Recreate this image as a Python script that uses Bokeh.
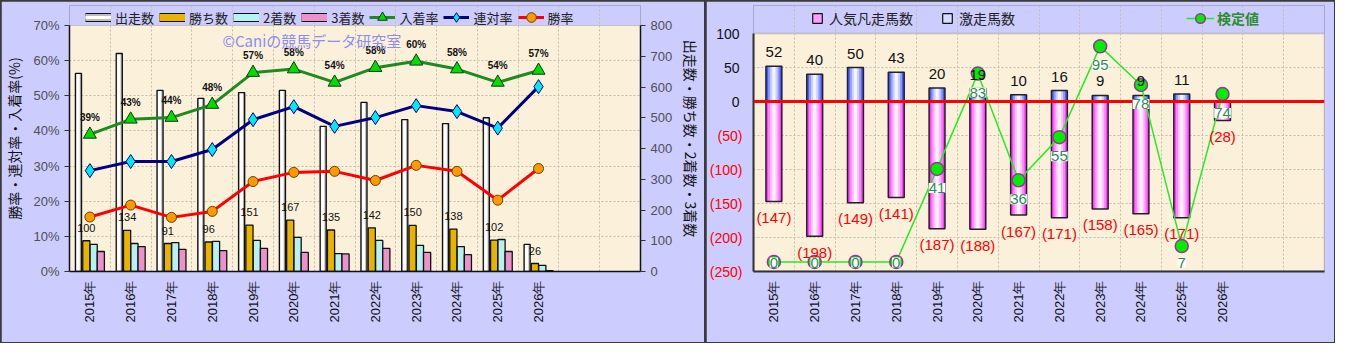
import numpy as np
from bokeh.plotting import figure
from bokeh.models import (ColumnDataSource, Range1d, LinearAxis, FixedTicker, Legend, LegendItem,
                          Label, LabelSet, Span, BoxAnnotation, CustomJSTickFormatter,
                          PrintfTickFormatter)
from bokeh.layouts import row
from bokeh.transform import dodge
from bokeh.core.properties import value
from bokeh.embed import file_html
from bokeh.resources import INLINE

# ---------------- data ----------------
years = ["2015年", "2016年", "2017年", "2018年", "2019年", "2020年",
         "2021年", "2022年", "2023年", "2024年", "2025年", "2026年"]
n_slots = 14  # two empty category slots on the right

runs = [644, 709, 589, 563, 582, 589, 472, 550, 494, 481, 500, 88]          # 出走数
wins = [100, 134, 91, 96, 151, 167, 135, 142, 150, 138, 102, 26]             # 勝ち数
seconds = [88, 91, 94, 98, 101, 111, 58, 101, 85, 81, 104, 20]                # 2着数
thirds = [65, 81, 72, 68, 75, 62, 57, 75, 62, 55, 65, 3]                      # 3着数
win_rate = [15.5, 18.9, 15.4, 17.1, 25.6, 28.2, 28.5, 25.9, 30.2, 28.5, 20.3, 29.3]      # 勝率
rentai_rate = [28.7, 31.3, 31.3, 34.7, 43.2, 46.9, 41.3, 43.8, 47.2, 45.5, 40.8, 52.6]  # 連対率
fukusho_rate = [39.0, 43.3, 43.8, 47.5, 56.6, 57.6, 53.8, 58.0, 59.8, 57.6, 53.8, 57.2]  # 入着率

ninki_bonsou = [147, 198, 149, 141, 187, 188, 167, 171, 158, 165, 171, 28]    # 人気凡走馬数 (shown negative)
gekisou = [52, 40, 50, 43, 20, 19, 10, 16, 9, 9, 11, None]                    # 激走馬数
kentei = [0, 0, 0, 0, 41, 83, 36, 55, 95, 78, 7, 74]                          # 検定値

# ---------------- style / layout ----------------
JP = "Noto Sans CJK JP"
NUM = "Liberation Sans"
BG = "#CCCCFF"
PLOT_BG = "#FBF1DB"
GRID = "#C4BCAA"
TOP, FRAME_H, BOTTOM = 4, 266, 71     # frame includes the legend strip; plot box drawn inside
FIG_H = TOP + FRAME_H + BOTTOM
NAN = [np.nan]   # legend-only proxy glyphs draw nothing in the plot

x = np.arange(len(years))
year_fmt = CustomJSTickFormatter(args=dict(labels=years), code="""
    const i = Math.round(tick);
    return (i >= 0 && i < labels.length) ? labels[i] : '';
""")


def style_xaxis(p, color, ybounds):
    p.xaxis.ticker = FixedTicker(ticks=list(x))
    p.xaxis.formatter = year_fmt
    p.xaxis.major_label_orientation = np.pi / 2   # reads bottom-to-top
    p.xaxis.major_label_text_font = NUM
    p.xaxis.major_label_text_font_size = "13px"
    p.xaxis.major_label_text_color = "#111111"
    p.xaxis.major_tick_line_color = None
    p.xaxis.major_tick_out = 0
    p.xaxis.minor_tick_line_color = None
    p.xaxis.axis_line_color = color
    p.xaxis.major_label_standoff = 9
    p.xgrid.ticker = FixedTicker(ticks=list(np.arange(n_slots - 1) + 0.5))
    p.xgrid.bounds = ybounds
    for g in (p.xgrid[0], p.ygrid[0]):
        g.grid_line_color = GRID
        g.grid_line_dash = "2 2"
        g.grid_line_width = 1
    p.outline_line_color = None


# ================= left chart =================
PLOT1_H = 246                       # pixel height of the 0-70% box
ext1 = (FRAME_H - PLOT1_H) / PLOT1_H  # extra fraction above the box for the legend strip
src = ColumnDataSource(dict(
    x=x, runs=runs, wins=wins, seconds=seconds, thirds=thirds,
    win_rate=win_rate, rentai=rentai_rate, fukusho=fukusho_rate,
    fuku_lbl=[f"{v:.0f}%" for v in fukusho_rate],
    win_lbl=[str(v) for v in wins]))

p1 = figure(width=67 + 571 + 61, height=FIG_H, frame_width=571, frame_height=FRAME_H,
            x_range=Range1d(-0.5, n_slots - 0.5), y_range=Range1d(0, 70 * (1 + ext1)),
            output_backend="svg", toolbar_location=None,
            min_border_left=67, min_border_right=61, min_border_top=TOP, min_border_bottom=BOTTOM,
            background_fill_color=BG, border_fill_color=BG)
p1.extra_y_ranges = {"cnt": Range1d(0, 800 * (1 + ext1))}
p1.add_layout(BoxAnnotation(bottom=0, top=70, fill_color=PLOT_BG, fill_alpha=1,
                            line_color="#8A8A8A", line_width=1, level="image"))

# bars
p1.vbar(x=dodge("x", -0.28), top="runs", width=0.15, source=src, y_range_name="cnt",
        fill_color="#A9A9A9", line_color=None)
p1.vbar(x=dodge("x", -0.29), top="runs", width=0.085, source=src, y_range_name="cnt",
        fill_color="#FFFFFF", line_color=None)
p1.vbar(x=dodge("x", -0.28), top="runs", width=0.15, source=src, y_range_name="cnt",
        fill_color=None, line_color="#111111", line_width=1.3)
p1.vbar(x=dodge("x", -0.088), top="wins", width=0.175, source=src, y_range_name="cnt",
        fill_color="#E8B400", line_color="#111111", line_width=1.3)
p1.vbar(x=dodge("x", 0.093), top="seconds", width=0.175, source=src, y_range_name="cnt",
        fill_color="#B6F2F2", line_color="#111111", line_width=1.3)
p1.vbar(x=dodge("x", 0.268), top="thirds", width=0.175, source=src, y_range_name="cnt",
        fill_color="#EC92CB", line_color="#111111", line_width=1.3)

# lines
l_fuku = p1.line("x", "fukusho", source=src, line_color="#1F8A1F", line_width=3)
m_fuku = p1.scatter("x", "fukusho", source=src, marker="triangle", size=13,
                    fill_color="#00DD00", line_color="#143814", line_width=1)
l_ren = p1.line("x", "rentai", source=src, line_color="#000080", line_width=3)
m_ren = p1.scatter("x", "rentai", source=src, marker="diamond", size=14,
                   fill_color="#00E8F0", line_color="#000080", line_width=1)
l_win = p1.line("x", "win_rate", source=src, line_color="#FF0000", line_width=3)
m_win = p1.scatter("x", "win_rate", source=src, marker="circle", size=10,
                   fill_color="#FF9900", line_color="#6A4000", line_width=1)

# labels
p1.add_layout(LabelSet(x="x", y="fukusho", text="fuku_lbl", source=src, y_offset=17,
                       text_align="center", text_baseline="middle", text_font=value(NUM),
                       text_font_size="10px", text_font_style="bold", text_color="#111111"))
p1.add_layout(LabelSet(x=dodge("x", -0.088), y="wins", text="win_lbl", source=src, y_range_name="cnt",
                       y_offset=13, text_align="center", text_baseline="middle", text_font=value(NUM),
                       text_font_size="11px", text_color="#111111"))
p1.add_layout(Label(x=153, y=231, x_units="screen", y_units="screen",
                    text="©Caniの競馬データ研究室", text_font=JP, text_font_size="15px",
                    text_color="#8C8CF2", text_baseline="middle"))

# axes
p1.yaxis.ticker = FixedTicker(ticks=list(range(0, 71, 10)))
p1.yaxis.formatter = PrintfTickFormatter(format="%d%%")
p1.yaxis.axis_label = "勝率・連対率・入着率(%)"
p1.yaxis.bounds = (0, 70)
ax_r = LinearAxis(y_range_name="cnt", ticker=FixedTicker(ticks=list(range(0, 801, 100))),
                  bounds=(0, 800))
ax_r.axis_label = "出走数・勝ち数・2着数・3着数"
p1.add_layout(ax_r, "right")
for ax in (p1.yaxis[0], ax_r):
    ax.major_label_text_font = NUM
    ax.major_label_text_font_size = "13px"
    ax.major_label_text_color = "#505050"
    ax.axis_line_color = "#111111"
    ax.axis_line_width = 1.5
    ax.major_tick_out = 5
    ax.major_tick_in = 0
    ax.major_tick_line_color = "#333333"
    ax.minor_tick_line_color = None
    ax.major_label_standoff = 5
    ax.axis_label_text_font = JP
    ax.axis_label_text_font_style = "normal"
    ax.axis_label_text_font_size = "14px"
    ax.axis_label_text_color = "#111111"
    ax.axis_label_standoff = 6

style_xaxis(p1, "#111111", (0, 70))
p1.xaxis.axis_line_width = 1.5


# legend (proxy strokes give the flat bar swatches)
def bar_proxy(fig, fill, inner=None):
    rs = [fig.line(NAN, NAN, line_color="#111111", line_width=9),
          fig.line(NAN, NAN, line_color=fill, line_width=7)]
    if inner:
        rs.append(fig.line(NAN, NAN, line_color=inner, line_width=3))
    return rs


legL = Legend(items=[LegendItem(label="出走数", renderers=bar_proxy(p1, "#BDBDBD", "#FFFFFF")),
                     LegendItem(label="勝ち数", renderers=bar_proxy(p1, "#E8B400")),
                     LegendItem(label="2着数", renderers=bar_proxy(p1, "#B6F2F2")),
                     LegendItem(label="3着数", renderers=bar_proxy(p1, "#EC92CB")),
                     LegendItem(label="入着率", renderers=[l_fuku, m_fuku]),
                     LegendItem(label="連対率", renderers=[l_ren, m_ren]),
                     LegendItem(label="勝率", renderers=[l_win, m_win])],
              orientation="horizontal", location=(16, 242), glyph_width=26, glyph_height=24,
              label_height=24, label_width=0, spacing=5, label_standoff=4, padding=0, margin=0,
              background_fill_alpha=0, border_line_color=None,
              label_text_font=JP, label_text_font_size="13px", label_text_color="#222222")
p1.add_layout(legL, "center")

# ================= right chart =================
PLOT2_H = 238                     # pixel height of the -250..100 box
Y2_TOP = -250 + 350 * FRAME_H / PLOT2_H
K_LO, K_HI = -4.2, 113.0
u = (K_HI - K_LO) / FRAME_H       # kentei units per pixel
k_arr = np.array(kentei, dtype=float)
k_lbl_y = np.maximum(k_arr - 19 * u, K_LO + 9 * u)   # label 19px below marker, kept inside box

src2 = ColumnDataSource(dict(x=x, neg=-np.array(ninki_bonsou), kentei=kentei, k_lbl_y=k_lbl_y,
                             neg_lbl=[f"({v})" for v in ninki_bonsou],
                             k_lbl=[str(v) for v in kentei]))
pos_idx = [i for i, v in enumerate(gekisou) if v is not None]
src3 = ColumnDataSource(dict(x=x[pos_idx], pos=[gekisou[i] for i in pos_idx],
                             pos_lbl=[str(gekisou[i]) for i in pos_idx]))

p2 = figure(width=45 + 571 + 10, height=FIG_H, frame_width=571, frame_height=FRAME_H,
            x_range=Range1d(-0.5, n_slots - 0.5), y_range=Range1d(-250, Y2_TOP),
            output_backend="svg", toolbar_location=None,
            min_border_left=45, min_border_right=10, min_border_top=TOP, min_border_bottom=BOTTOM,
            background_fill_color=BG, border_fill_color=BG)
p2.extra_y_ranges = {"kentei": Range1d(K_LO, K_HI)}
p2.add_layout(BoxAnnotation(bottom=-250, top=100, fill_color=PLOT_BG, fill_alpha=1,
                            line_color="#8A8A8A", line_width=2, level="image"))

BW = 0.39
pink_layers = ["#FF3CFF", "#FF86FF", "#FFC4FF", "#FFF2FF"]
blue_layers = ["#4858FF", "#8E9CFF", "#C9D0FF", "#F3F5FF"]
fr = [1.0, 0.72, 0.46, 0.2]
for k, (f, cp, cb) in enumerate(zip(fr, pink_layers, blue_layers)):
    p2.vbar(x="x", top=0, bottom="neg", width=BW * f, source=src2, fill_color=cp, line_color=None)
    p2.vbar(x="x", top="pos", bottom=0, width=BW * f, source=src3, fill_color=cb, line_color=None)
p2.vbar(x="x", top=0, bottom="neg", width=BW, source=src2, fill_color=None,
        line_color="#222222", line_width=1.5)
p2.vbar(x="x", top="pos", bottom=0, width=BW, source=src3, fill_color=None,
        line_color="#222222", line_width=1.5)

p2.add_layout(Span(location=0, dimension="width", line_color="#FF0000", line_width=3))

p2.add_layout(LabelSet(x="x", y="neg", text="neg_lbl", source=src2, y_offset=-16,
                       text_align="center", text_baseline="middle", text_font=value(NUM),
                       text_font_size="15px", text_color="#FF0000"))
p2.add_layout(LabelSet(x="x", y="pos", text="pos_lbl", source=src3, y_offset=14,
                       text_align="center", text_baseline="middle", text_font=value(NUM),
                       text_font_size="15px", text_color="#111111"))

k_line = p2.line("x", "kentei", source=src2, y_range_name="kentei", line_color="#22EE22", line_width=1.5)
k_mark = p2.scatter("x", "kentei", source=src2, y_range_name="kentei", marker="circle", size=13,
                    fill_color="#00EE00", line_color="#993399", line_width=1.5)
p2.add_layout(LabelSet(x="x", y="k_lbl_y", text="k_lbl", source=src2, y_range_name="kentei",
                       text_align="center", text_baseline="middle", text_font=value(NUM),
                       text_font_size="15px", text_color="#2E8B57",
                       background_fill_color="#FFFFFF"))

# y axes: red negatives on the main axis, black non-negatives on a second axis
p2.yaxis.ticker = FixedTicker(ticks=list(range(-250, 101, 50)))
p2.yaxis.formatter = CustomJSTickFormatter(code="return tick < 0 ? '(' + (-tick) + ')' : '';")
p2.yaxis.major_label_text_color = "#FF0000"
p2.yaxis.bounds = (-250, 100)
ax_pos = LinearAxis(ticker=FixedTicker(ticks=[0, 50, 100]), bounds=(-250, 100))
p2.add_layout(ax_pos, "left")
for ax in (p2.yaxis[0], ax_pos):
    ax.major_label_text_font = NUM
    ax.major_label_text_font_size = "14px"
    ax.major_tick_line_color = None
    ax.major_tick_out = 0
    ax.minor_tick_line_color = None
ax_pos.major_label_text_color = "#111111"
ax_pos.axis_line_color = None
p2.yaxis[0].major_label_standoff = 11
p2.yaxis[0].axis_line_color = "#333333"
p2.yaxis[0].axis_line_width = 2
ax_pos.major_label_standoff = -33

style_xaxis(p2, "#333333", (-250, 100))
p2.xaxis.axis_line_width = 2

sq_pink = p2.scatter(NAN, NAN, marker="square", fill_color="#FF9CFF", line_color="#111111", line_width=1.2)
sq_blue = p2.scatter(NAN, NAN, marker="square", fill_color="#D6DCFF", line_color="#111111", line_width=1.2)
legC = Legend(items=[LegendItem(label="人気凡走馬数", renderers=[sq_pink]),
                     LegendItem(label="激走馬数", renderers=[sq_blue])],
              orientation="horizontal", location=(52, 241), glyph_width=24, glyph_height=24,
              label_height=24, label_width=0, spacing=22, label_standoff=-5,
              label_text_color="#222222")
legD = Legend(items=[LegendItem(label="検定値", renderers=[k_line, k_mark])],
              orientation="horizontal", location=(433, 241), glyph_width=28, glyph_height=24,
              label_height=24, label_width=0, label_standoff=3,
              label_text_color="#2E8B2E", label_text_font_style="bold")
for lg in (legC, legD):
    lg.padding = 0
    lg.margin = 0
    lg.background_fill_alpha = 0
    lg.border_line_color = None
    lg.label_text_font = JP
    lg.label_text_font_size = "14px"
    p2.add_layout(lg, "center")

layout = row(p1, p2, spacing=2, styles={"background-color": "#3A3A3A", "padding": "1px"})
open("out.html", "w").write(file_html(layout, INLINE))
